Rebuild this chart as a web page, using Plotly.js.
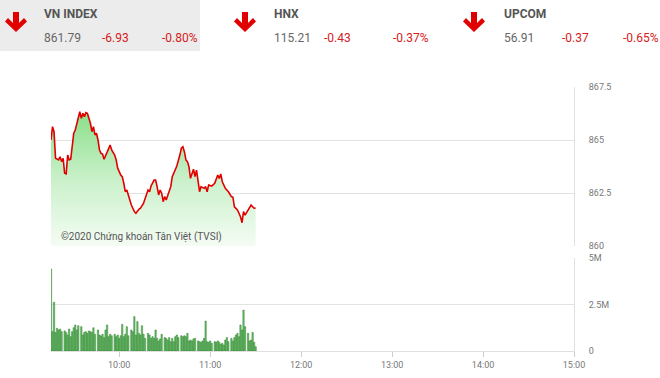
<!DOCTYPE html>
<html>
<head>
<meta charset="utf-8">
<script src="https://cdn.plot.ly/plotly-3.0.1.min.js"></script>
<style>html,body{margin:0;padding:0;background:#fff}#chart{width:660px;height:378px}</style>
</head>
<body>
<div id="chart"></div>
<script>
// ---------- data ----------
const DAY = '2020-01-01 ';
const indexTimes = ['09:15','09:16','09:17','09:18','09:20','09:21','09:22','09:23','09:24','09:25','09:26','09:27','09:28','09:30','09:31','09:32','09:34','09:35','09:36','09:37','09:38','09:39','09:40','09:41','09:42','09:43','09:44','09:45','09:46','09:47','09:48','09:49','09:50','09:52','09:53','09:54','09:55','09:57','09:58','09:59','10:01','10:02','10:03','10:04','10:05','10:07','10:08','10:10','10:11','10:13','10:14','10:16','10:18','10:19','10:20','10:21','10:23','10:24','10:25','10:26','10:27','10:28','10:29','10:30','10:31','10:32','10:34','10:35','10:37','10:38','10:40','10:41','10:42','10:43','10:44','10:45','10:46','10:47','10:49','10:50','10:51','10:52','10:53','10:54','10:56','10:57','10:58','10:59','11:01','11:03','11:04','11:05','11:06','11:07','11:08','11:09','11:10','11:12','11:14','11:15','11:16','11:18','11:19','11:20','11:21','11:22','11:23','11:24','11:26','11:27','11:29','11:30'];
const indexValues = [865.00,865.63,865.39,864.14,864.06,864.21,863.98,864.14,863.43,863.40,864.29,864.06,864.09,865.32,865.47,865.79,866.33,866.02,866.26,866.10,866.29,866.26,866.02,865.79,865.39,865.63,865.24,865.32,865.00,864.53,864.37,864.34,864.09,864.45,864.61,864.76,864.53,864.29,864.06,863.67,863.35,863.27,862.96,862.56,862.64,862.17,861.93,861.62,861.54,861.73,861.78,862.01,862.41,862.64,862.56,862.83,863.11,863.11,862.80,862.41,862.64,862.49,862.09,862.33,862.17,862.41,862.80,863.27,863.67,863.77,864.29,864.61,864.68,864.45,864.06,863.98,863.74,863.19,863.62,863.27,863.58,863.11,862.56,862.80,862.72,862.80,862.56,862.88,862.83,862.96,863.19,863.35,863.19,863.40,863.03,862.88,862.72,862.56,862.33,862.30,861.85,861.70,861.54,861.38,861.10,861.62,861.46,861.57,861.78,861.93,861.78,861.79];

const volTimes = ['09:15','09:16','09:17','09:18','09:19','09:20','09:21','09:22','09:24','09:25','09:26','09:27','09:28','09:29','09:30','09:31','09:32','09:33','09:35','09:36','09:37','09:38','09:39','09:40','09:41','09:42','09:43','09:44','09:46','09:47','09:48','09:49','09:50','09:51','09:52','09:53','09:54','09:55','09:57','09:58','09:59','10:00','10:01','10:02','10:03','10:04','10:05','10:06','10:08','10:09','10:10','10:11','10:12','10:13','10:14','10:15','10:16','10:17','10:19','10:20','10:21','10:22','10:23','10:24','10:25','10:26','10:27','10:28','10:30','10:31','10:32','10:33','10:34','10:35','10:36','10:37','10:38','10:39','10:41','10:42','10:43','10:44','10:45','10:46','10:47','10:48','10:49','10:50','10:52','10:53','10:54','10:55','10:56','10:57','10:58','10:59','11:00','11:01','11:03','11:04','11:05','11:06','11:07','11:08','11:09','11:10','11:11','11:12','11:14','11:15','11:16','11:17','11:18','11:19','11:20','11:21','11:22','11:23','11:25','11:26','11:27','11:28','11:29','11:30'];
const volValues = [4.41,1.04,2.62,1.00,1.22,1.13,1.18,1.04,1.08,1.00,0.86,1.18,0.77,1.04,1.25,1.40,1.13,1.36,1.31,0.86,1.00,1.04,0.95,1.08,1.04,1.00,1.25,0.90,1.13,0.86,0.81,0.90,0.72,1.13,1.40,0.77,0.90,0.82,0.90,0.77,0.86,0.68,0.82,1.43,0.77,0.90,1.31,0.82,1.13,1.04,1.85,0.86,1.58,0.95,0.86,1.36,0.90,0.68,0.95,0.86,0.68,0.77,0.68,1.13,0.68,0.54,0.65,0.90,0.72,0.68,0.59,0.72,0.50,0.68,0.50,0.77,0.86,0.72,0.82,0.77,0.82,0.77,0.95,0.54,0.59,0.54,0.65,0.68,0.54,0.50,0.47,0.54,0.68,1.61,0.50,0.47,0.54,0.41,0.50,0.47,0.54,0.47,0.36,0.41,0.32,0.59,0.72,0.50,0.68,0.54,0.72,0.86,0.95,0.77,1.40,1.13,2.20,1.31,0.95,0.54,0.59,1.00,0.47,0.23];

const xTickTimes = ['10:00','11:00','12:00','13:00','14:00','15:00'];
const sessionStart = '09:15', sessionEnd = '15:00';
const priceTicks = [860, 862.5, 865, 867.5];
const volTicks = [0, 2.5, 5];
const volTickText = ['0', '2.5M', '5M'];

const headerNames = ['VN INDEX', 'HNX', 'UPCOM'];
const headerValues = ['861.79', '115.21', '56.91'];
const headerChanges = ['-6.93', '-0.43', '-0.37'];
const headerPercents = ['-0.80%', '-0.37%', '-0.65%'];
const watermark = '©2020 Chứng khoán Tân Việt (TVSI)';

// ---------- layout helpers ----------
const W = 660, H = 378;
const M = {l: 51, r: 86, t: 87, b: 27};
const PW = W - M.l - M.r, PH = H - M.t - M.b;
const X = px => (px - M.l) / PW;
const Y = py => (H - M.b - py) / PH;

const gray = '#666', red = '#d42020', font = 'Roboto, Arial, sans-serif';

const traces = [
  {
    x: indexTimes.map(t => DAY + t), y: indexValues,
    type: 'scatter', mode: 'lines', xaxis: 'x', yaxis: 'y',
    line: {color: '#e00000', width: 1.6},
    fill: 'tozeroy',
    fillgradient: {type: 'vertical', start: 860, stop: 866.4,
      colorscale: [[0, 'rgb(244,252,244)'], [0.5, 'rgb(200,240,200)'], [1, 'rgb(135,222,135)']]},
    hoverinfo: 'skip'
  },
  {
    x: volTimes.map(t => DAY + t), y: volValues.map(v => v * 1e6),
    type: 'bar', xaxis: 'x2', yaxis: 'y2',
    width: 52000,
    marker: {color: 'rgb(110,195,110)', line: {color: 'rgb(40,125,40)', width: 0.5}},
    hoverinfo: 'skip'
  }
];

const annotations = [];
const shapes = [];
// header background of first tile
shapes.push({type: 'rect', xref: 'paper', yref: 'paper', x0: X(0), x1: X(200), y0: Y(51), y1: Y(0),
  fillcolor: '#ececec', line: {width: 0}, layer: 'below'});

const tileArrowX = [16, 245, 474];
const tileTextX = [42, 272, 502];
const tileChgX = [100, 322, 560];
const tilePctX = [160, 391, 621];
function arrowPath(cx) {
  const pts = [[-3, 12], [3, 12], [3, 23], [8, 18], [11, 21.5], [0, 32], [-11, 21.5], [-8, 18], [-3, 23]];
  return 'M' + pts.map(p => X(cx + p[0]).toFixed(5) + ',' + Y(p[1]).toFixed(5)).join(' L') + ' Z';
}
for (let i = 0; i < headerNames.length; i++) {
  shapes.push({type: 'path', xref: 'paper', yref: 'paper', path: arrowPath(tileArrowX[i]),
    fillcolor: '#e00000', line: {width: 0}});
  annotations.push({text: '<b>' + headerNames[i] + '</b>', x: X(tileTextX[i]), y: Y(14), xref: 'paper', yref: 'paper',
    xanchor: 'left', yanchor: 'middle', showarrow: false, font: {family: font, size: 12, color: '#555'}});
  annotations.push({text: headerValues[i], x: X(tileTextX[i]), y: Y(38), xref: 'paper', yref: 'paper',
    xanchor: 'left', yanchor: 'middle', showarrow: false, font: {family: font, size: 12, color: gray}});
  annotations.push({text: headerChanges[i], x: X(tileChgX[i]), y: Y(38), xref: 'paper', yref: 'paper',
    xanchor: 'left', yanchor: 'middle', showarrow: false, font: {family: font, size: 12, color: red}});
  annotations.push({text: headerPercents[i], x: X(tilePctX[i]), y: Y(38), xref: 'paper', yref: 'paper',
    xanchor: 'left', yanchor: 'middle', showarrow: false, font: {family: font, size: 12, color: red}});
}
annotations.push({text: watermark, x: X(59), y: Y(237), xref: 'paper', yref: 'paper',
  xanchor: 'left', yanchor: 'middle', showarrow: false, font: {family: font, size: 10, color: '#555'}});

const topDomain = [Y(246), 1];
const botDomain = [0, Y(258)];
const xCommon = {
  type: 'date', range: [DAY + sessionStart, DAY + sessionEnd],
  tickvals: xTickTimes.map(t => DAY + t), ticktext: xTickTimes,
  showgrid: false, zeroline: false, fixedrange: true
};

const layout = {
  width: W, height: H, margin: M,
  paper_bgcolor: '#fff', plot_bgcolor: 'rgba(0,0,0,0)',
  showlegend: false, bargap: 0,
  font: {family: font, size: 9, color: '#777'},
  xaxis: Object.assign({}, xCommon, {anchor: 'y', showticklabels: false, ticks: '', showline: false, domain: [0, 1]}),
  xaxis2: Object.assign({}, xCommon, {anchor: 'y2', matches: 'x', showticklabels: true, ticks: 'outside', ticklen: 5,
    tickcolor: '#ccc', showline: true, linecolor: '#e0e0e0', linewidth: 1, tickfont: {size: 9, color: '#777'}, domain: [0, 1]}),
  yaxis: {domain: topDomain, anchor: 'x', side: 'right', range: [860, 867.5], tickvals: priceTicks,
    ticktext: priceTicks.map(String), showgrid: true, gridcolor: '#e3e3e3', zeroline: false,
    showline: true, linecolor: '#e0e0e0', ticks: 'outside', ticklen: 12, tickcolor: 'rgba(0,0,0,0)',
    tickfont: {size: 9, color: '#777'}, fixedrange: true},
  yaxis2: {domain: botDomain, anchor: 'x2', side: 'right', range: [0, 5e6], tickvals: volTicks.map(v => v * 1e6),
    ticktext: volTickText, showgrid: true, gridcolor: '#e3e3e3', zeroline: false,
    showline: true, linecolor: '#e0e0e0', ticks: 'outside', ticklen: 12, tickcolor: 'rgba(0,0,0,0)',
    tickfont: {size: 9, color: '#777'}, fixedrange: true},
  shapes: shapes, annotations: annotations
};

Plotly.newPlot('chart', traces, layout, {staticPlot: true, displayModeBar: false});
</script>
</body>
</html>
